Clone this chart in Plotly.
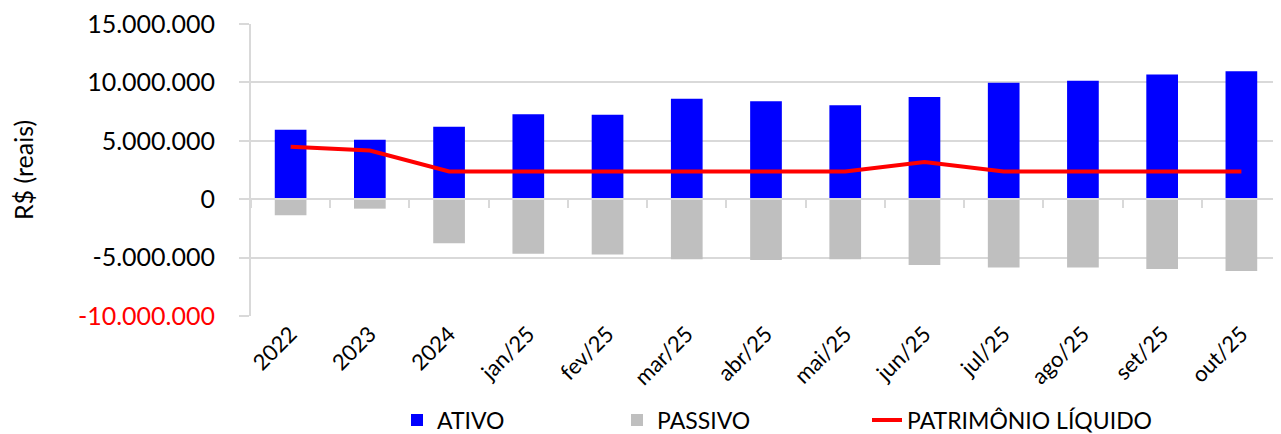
import plotly.graph_objects as go

# dados
categorias = ["2022", "2023", "2024", "jan/25", "fev/25", "mar/25", "abr/25",
              "mai/25", "jun/25", "jul/25", "ago/25", "set/25", "out/25"]
ativo = [5940000, 5090000, 6200000, 7280000, 7220000, 8590000, 8390000,
         8050000, 8760000, 9960000, 10150000, 10670000, 10960000]
passivo = [-1380000, -810000, -3780000, -4660000, -4740000, -5140000, -5200000,
           -5140000, -5630000, -5850000, -5850000, -5970000, -6140000]
patrimonio = [4490000, 4170000, 2380000, 2380000, 2380000, 2380000, 2380000,
              2380000, 3180000, 2380000, 2380000, 2380000, 2380000]
y_ticks = [-10000000, -5000000, 0, 5000000, 10000000, 15000000]
y_labels = ["<span style='color:#ff0000'>-10.000.000</span>", "-5.000.000", "0",
            "5.000.000", "10.000.000", "15.000.000"]

FONT = "Lato, 'Open Sans', sans-serif"
GRID = "#d9d9d9"
W, H = 1273, 426  # a página tem 8px de margem no body

fig = go.Figure()
fig.add_trace(go.Bar(x=categorias, y=ativo, name="ATIVO", marker_color="#0000ff",
                     width=0.4, marker_line_width=0, legend="legend"))
fig.add_trace(go.Bar(x=categorias, y=passivo, name="PASSIVO", marker_color="#bfbfbf",
                     width=0.4, marker_line_width=0, legend="legend2"))
# a linha usa o eixo x2 (linha do zero com marcas entre categorias)
fig.add_trace(go.Scatter(x=categorias, y=patrimonio, name="PATRIMÔNIO LÍQUIDO",
                         mode="lines", line=dict(color="#ff0000", width=4),
                         xaxis="x2", legend="legend3"))

leg = dict(orientation="h", xref="container", yref="container", y=1 - 412 / H,
           yanchor="middle", xanchor="left", font=dict(size=23), bgcolor="rgba(0,0,0,0)")

fig.update_layout(
    width=W, height=H,
    margin=dict(l=243, r=0, t=16, b=118),
    plot_bgcolor="white", paper_bgcolor="white",
    barmode="relative",
    font=dict(family=FONT, size=24, color="black"),
    showlegend=True,
    legend=dict(leg, x=389 / W),
    legend2=dict(leg, x=609 / W),
    legend3=dict(leg, x=859 / W),
    xaxis=dict(type="category", tickangle=-45, showgrid=False, showline=False,
               ticks="", tickfont=dict(size=22), automargin=False,
               categoryarray=categorias, categoryorder="array"),
    xaxis2=dict(type="category", overlaying="x", matches="x", anchor="free",
                position=0.4, side="bottom", showline=True, linecolor=GRID, linewidth=2,
                ticks="outside", tickson="boundaries", ticklen=8, tickcolor=GRID,
                tickwidth=2, showticklabels=False, showgrid=False, automargin=False),
    yaxis=dict(range=[-10000000, 15000000], tickvals=y_ticks, ticktext=y_labels,
               showgrid=True, gridcolor=GRID, gridwidth=2, zeroline=False,
               showline=True, linecolor=GRID, linewidth=2,
               ticks="outside", ticklen=10, tickcolor=GRID, tickwidth=2,
               ticklabelstandoff=19, automargin=False, ticklabeloverflow="allow",
               title=dict(text="R$ (reais)", font=dict(size=25), standoff=40),
               tickfont=dict(size=25)),
)

fig.write_html("out.html")
